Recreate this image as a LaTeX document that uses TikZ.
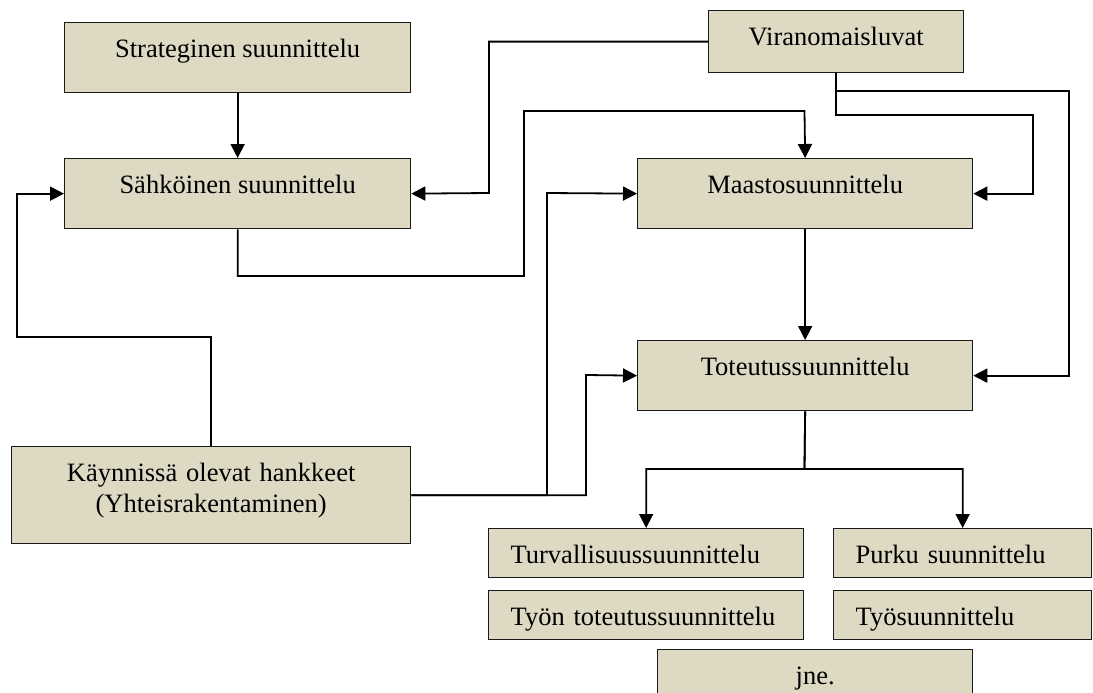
\documentclass[tikz,border=0pt]{standalone}
\usepackage{fontspec}
\setmainfont{Liberation Serif}
\usetikzlibrary{arrows.meta}
\definecolor{boxfill}{HTML}{DDD9C3}
\definecolor{boxline}{HTML}{1A1A1A}
\begin{document}
\begin{tikzpicture}[x=1pt,y=-1pt,
  box/.style={draw=boxline, line width=1.3pt, fill=boxfill, rectangle,
    anchor=north west, inner xsep=0pt, inner ysep=0pt,
    text height=35pt, font=\fontsize{26.5pt}{31pt}\selectfont},
  lbox/.style={box, inner xsep=22pt, align=left},
  link/.style={line width=1.8pt, draw=black},
  arr/.style={link, -{Triangle[length=14pt,width=14pt]}}]
\useasboundingbox (0,0) rectangle (1093,693);

% planning stages
\node[box, minimum width=346pt, text depth=35pt] (strat) at (64,22) {Strateginen suunnittelu};
\node[box, minimum width=346pt, text depth=35pt] (sah) at (64,158) {Sähköinen suunnittelu};
\node[box, minimum width=255pt, text depth=27pt] (viran) at (708,10) {Viranomaisluvat};
\node[box, minimum width=335pt, text depth=35pt] (maasto) at (637,158) {Maastosuunnittelu};
\node[box, minimum width=335pt, text depth=35pt] (tot) at (637,340) {Toteutussuunnittelu};
\node[box, text width=399pt, align=center, text depth=62pt] (kayn) at (11,446)
  {Käynnissä olevat hankkeet\\(Yhteisrakentaminen)};

% detailed plans
\node[lbox, text width=271pt, text depth=14pt] (turv) at (488,528) {Turvallisuussuunnittelu};
\node[lbox, text width=271pt, text depth=14pt] (tyon) at (488,590) {Työn toteutussuunnittelu};
\node[lbox, text width=214pt, text depth=14pt] (purku) at (833,528) {Purku suunnittelu};
\node[lbox, text width=214pt, text depth=14pt] (tyos) at (833,590) {Työsuunnittelu};
\node[box, minimum width=315pt, text depth=16pt] (jne) at (657,649) {jne.};

% connectors
\draw[arr] (strat.south) -- (sah.north);
\draw[arr] (viran.west) -| (489,193) -- (sah.east);
\draw[arr] (sah.south) |- (524,276) |- (804.5,111) -- (maasto.north);
\draw[arr] (kayn.east) -| (547,193) -- (maasto.west);
\draw[arr] (kayn.east) -| (586,375) -- (tot.west);
\draw[arr] (kayn.north) |- (17,337) |- (sah.west);
\draw[arr] (viran.south) |- (1033,115) |- (maasto.east);
\draw[arr] (viran.south) |- (1069,91) |- (tot.east);
\draw[arr] (maasto.south) -- (tot.north);
\draw[arr] (tot.south) -- (804.5,469) -| (turv.north);
\draw[arr] (tot.south) -- (804.5,469) -| (purku.north);
\end{tikzpicture}
\end{document}
